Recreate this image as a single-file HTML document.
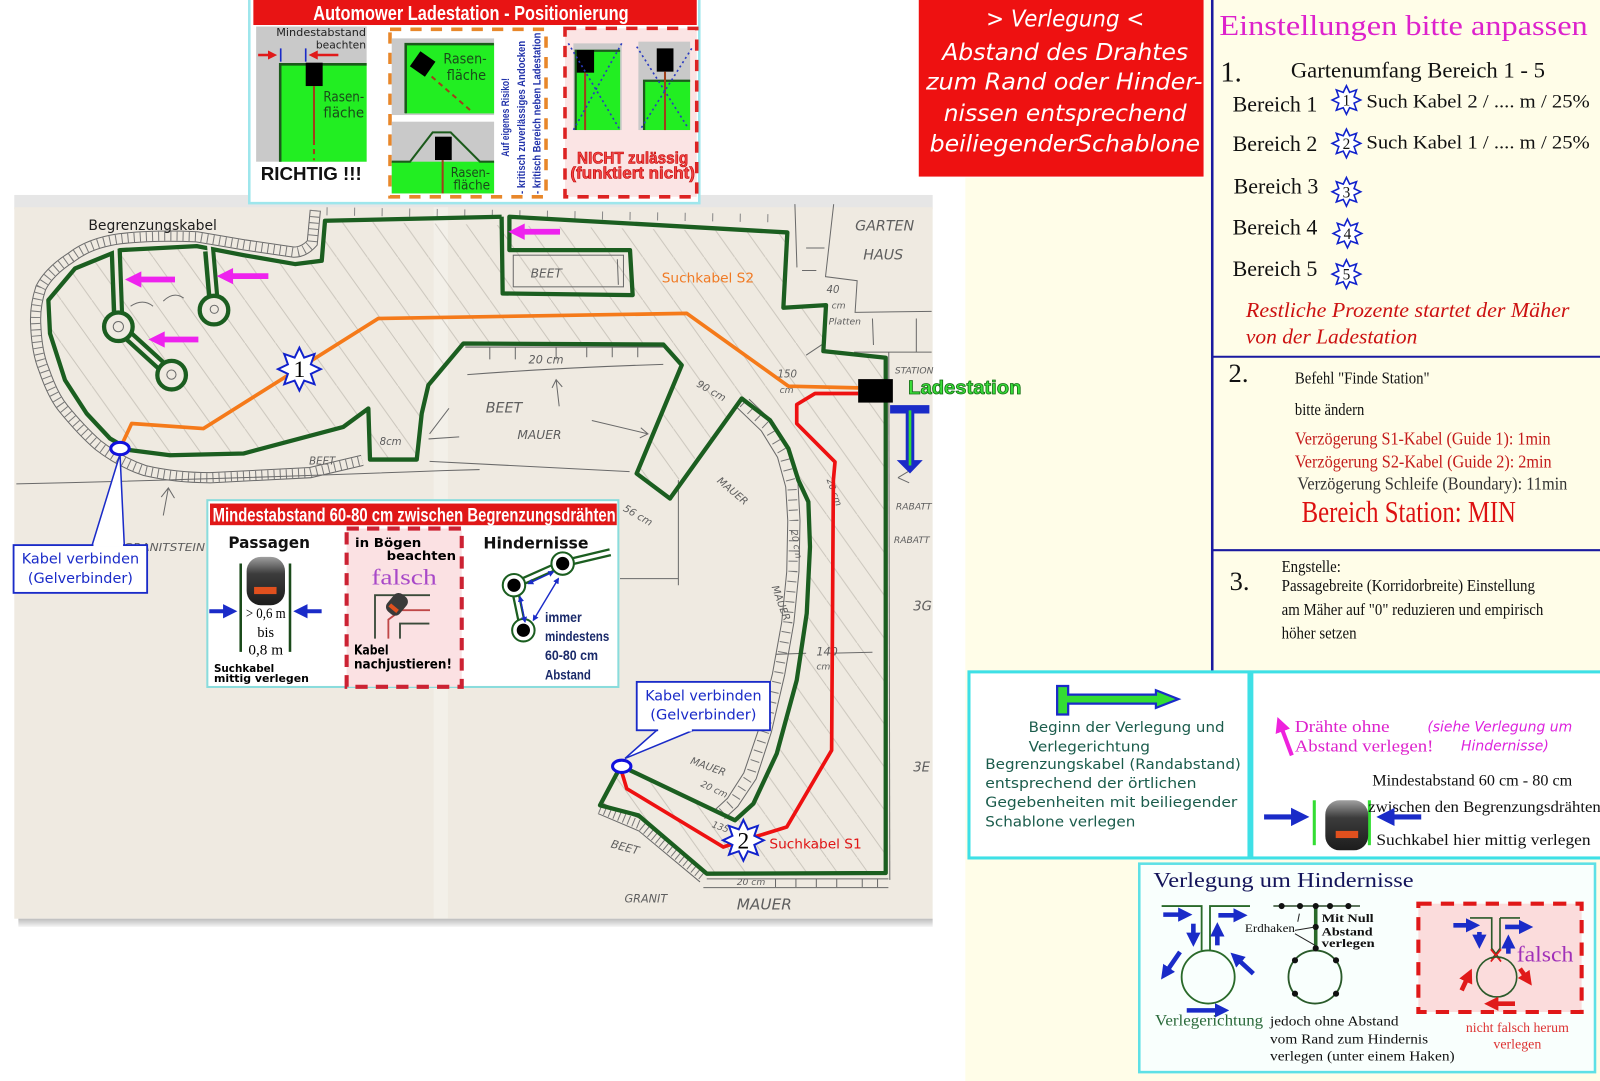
<!DOCTYPE html>
<html><head><meta charset="utf-8"><style>
html,body{margin:0;padding:0;background:#fff;}
svg{display:block;}
text{font-family:"Liberation Sans",sans-serif;}
.sf,.sf text{font-family:"Liberation Serif",serif;}
.dv,.dv text{font-family:"DejaVu Sans","Liberation Sans",sans-serif;}
.nar,.nar text{font-family:"Liberation Sans Narrow","Liberation Sans",sans-serif;font-weight:bold;}
.pc,.pc text{font-family:"DejaVu Sans","Liberation Sans",sans-serif;font-style:italic;fill:#5e5e5e;}
</style></head><body>
<svg width="1600" height="1081" viewBox="0 0 1568 1059" preserveAspectRatio="none" xmlns="http://www.w3.org/2000/svg">
<defs>
<marker id="ab" viewBox="0 0 10 10" refX="6" refY="5" markerWidth="14" markerHeight="14" markerUnits="userSpaceOnUse" orient="auto"><path d="M0,0L10,5L0,10z" fill="#1a2bc8"/></marker>
<marker id="abb" viewBox="0 0 10 10" refX="6" refY="5" markerWidth="18" markerHeight="18" markerUnits="userSpaceOnUse" orient="auto"><path d="M0,0L10,5L0,10z" fill="#1a2bc8"/></marker>
<marker id="ar" viewBox="0 0 10 10" refX="6" refY="5" markerWidth="14" markerHeight="14" markerUnits="userSpaceOnUse" orient="auto"><path d="M0,0L10,5L0,10z" fill="#e01a1a"/></marker>
<marker id="ars" viewBox="0 0 10 10" refX="6" refY="5" markerWidth="9" markerHeight="9" markerUnits="userSpaceOnUse" orient="auto"><path d="M0,0L10,5L0,10z" fill="#e01a1a"/></marker>
<marker id="am" viewBox="0 0 10 10" refX="6" refY="5" markerWidth="15" markerHeight="15" markerUnits="userSpaceOnUse" orient="auto"><path d="M0,0L10,5L0,10z" fill="#ee22dd"/></marker>
<marker id="as" viewBox="0 0 10 10" refX="8" refY="5" markerWidth="6" markerHeight="6" markerUnits="userSpaceOnUse" orient="auto"><path d="M0,0L10,5L0,10z" fill="#1a2bc8"/></marker>
<marker id="as0" viewBox="0 0 10 10" refX="2" refY="5" markerWidth="6" markerHeight="6" markerUnits="userSpaceOnUse" orient="auto"><path d="M10,0L0,5L10,10z" fill="#1a2bc8"/></marker>
<pattern id="hatch" patternUnits="userSpaceOnUse" width="30" height="42"><path d="M-3,-4.2L33,46.2" stroke="#8f8a80" stroke-width="0.9"/></pattern>
<linearGradient id="mow" x1="0" y1="0" x2="0" y2="1"><stop offset="0" stop-color="#a0a0a0"/><stop offset="0.35" stop-color="#3c3c3c"/><stop offset="1" stop-color="#1c1c1c"/></linearGradient>
<linearGradient id="shd" x1="0" y1="0" x2="0" y2="1"><stop offset="0" stop-color="#bdbdbd"/><stop offset="1" stop-color="#f4f4f4"/></linearGradient>
<polygon id="star" vector-effect="non-scaling-stroke" points="0,-10 2.22,-5.36 7.07,-7.07 5.36,-2.22 10,0 5.36,2.22 7.07,7.07 2.22,5.36 0,10 -2.22,5.36 -7.07,7.07 -5.36,2.22 -10,0 -5.36,-2.22 -7.07,-7.07 -2.22,-5.36"/>
</defs>

<rect x="0" y="0" width="1568" height="1059" fill="#fff"/>
<rect x="946" y="174" width="622" height="885" fill="#fffde8"/>
<rect x="1180" y="0" width="388" height="176" fill="#fffde8"/>

<!-- ===== MAP ===== -->
<rect x="14" y="191" width="900" height="14" fill="#e6e6e6"/>
<rect x="14" y="203" width="900" height="697" fill="#efeae1"/>
<rect x="425" y="203" width="14" height="697" fill="#f4f1eb" opacity="0.8"/>
<rect x="18" y="900" width="896" height="8" fill="url(#shd)"/>

<polygon fill="url(#hatch)" opacity="0.42" points="318.5,216.3 771.6,227.7 767.7,301.5 809.5,298.9 806.9,344 868,350.5 868,855 692.6,855.9 625.6,798.7 588,788.9 609,751 720,803 738,787 761,738 781,666 791,601 794,536 792,492 782,470 773,439 755,412 727,390 655,483 624,464 668,358 650,337.5 454,336.5 421,377 413,405 408,450 363,450 361,400 336.5,418 238.5,444 166.6,446 127.4,441 107.8,429.6 84.9,405 63.7,372.4 49,326.7 47.4,294 73.5,263 117.6,245 192.8,241.1 238.5,250 289,258.7 315.3,255.5"/>

<path d="M309,206 L306,238 Q298,247 288,247 L240,240 L193,232 Q150,230 117,234 Q88,238 70,252 Q48,266 40,282 Q34,300 35,318 Q36,345 43,362 Q52,388 62,400 Q80,422 96,436 Q118,453 142,461 Q172,468 206,468 L304,463 L355,451" fill="none" stroke="#6a6a6a" stroke-width="11"/>
<path d="M309,206 L306,238 Q298,247 288,247 L240,240 L193,232 Q150,230 117,234 Q88,238 70,252 Q48,266 40,282 Q34,300 35,318 Q36,345 43,362 Q52,388 62,400 Q80,422 96,436 Q118,453 142,461 Q172,468 206,468 L304,463 L355,451" fill="none" stroke="#efeae1" stroke-width="9"/>
<path d="M309,206 L306,238 Q298,247 288,247 L240,240 L193,232 Q150,230 117,234 Q88,238 70,252 Q48,266 40,282 Q34,300 35,318 Q36,345 43,362 Q52,388 62,400 Q80,422 96,436 Q118,453 142,461 Q172,468 206,468 L304,463 L355,451" fill="none" stroke="#7a7a7a" stroke-width="9" stroke-dasharray="1 5"/>

<g fill="none" stroke="#6a6a6a" stroke-width="1">
<path d="M16,474 Q200,470 434,461 L470,460"/>
<path d="M160,505 L165,478 M158,487 L165,478 L171,488"/>
<rect x="503" y="250" width="108" height="31"/>
<path d="M605,254 L606,279"/>
<path d="M456,340 L650,340 M458,367 Q550,360 650,357"/>
<path d="M480,340 V352 M505,340 V352 M545,340 V352 M575,340 V350 M600,340 V350 M625,340 V350"/>
<path d="M421,452 L617,462 M421,425 L440,400"/>
<path d="M580,412 L635,425 M628,419 L635,425 L627,429"/>
<path d="M545,372 L548,398 M541,380 L545,372 L551,379"/>
<path d="M420,430 L450,428"/>
<path d="M728,395 L752,418 L768,445 L776,475 L778,510 L777,560 L772,610 L763,660 L750,715 L735,760 L718,786 L705,798" stroke-width="9" stroke="#777" stroke-dasharray="1 9"/>
<path d="M722,399 L746,422 L762,448 L770,477 L772,510 L771,560 L766,610 L757,660 L744,713 L729,757 L713,782 L700,794"/>
<path d="M734,391 L758,414 L774,442 L782,473 L784,510 L783,560 L778,610 L769,661 L756,717 L741,763 L723,790 L710,802"/>
<path d="M588,792 L627,808 L688,858" stroke-width="9" stroke="#777" stroke-dasharray="1 4"/>
<path d="M590,787 L628,802 L690,853 M586,797 L626,814 L686,864"/>
<path d="M692.6,861 H870.6 M689.3,869.6 H870.6"/>
<path d="M760,861 V869 M780,861 V869 M800,861 V869 M820,861 V869 M845,861 V869 M860,861 V869"/>
<path d="M664.8,470.4 L664.8,573.3 M607.6,566.8 L664.8,566.8"/>
<path d="M779,200 L781,262 M817,200 L809,271 L840,275 L838,306 L913,305 M855,312 L856,338 M898,312 L898,345 M837,345 L913,345 M790,243 L808,243 M786,265 L800,265"/>
<path d="M760,641 L790,640 M812,640 L855,639"/>
<path d="M880,468 L890,462 M880,468 L891,473"/>
<path d="M871,345 L872,862"/>
<path d="M320,207 L770,214" stroke-width="8" stroke="#888" stroke-dasharray="1 26"/>
<path d="M790,348 L808,336"/>
<path d="M128,300 Q140,292 150,300 M160,295 Q170,285 180,292"/>
</g>
<g class="pc">
<text x="121" y="540" font-size="10" textLength="80" lengthAdjust="spacingAndGlyphs">GRANITSTEIN</text>
<text x="520" y="272" font-size="12">BEET</text>
<text x="518" y="356" font-size="11">20 cm</text>
<text x="476" y="404" font-size="14">BEET</text>
<text x="507" y="430" font-size="12">MAUER</text>
<text x="303" y="455" font-size="10">BEET</text>
<text x="372" y="436" font-size="10">8cm</text>
<text x="838" y="226" font-size="14">GARTEN</text>
<text x="846" y="254" font-size="14">HAUS</text>
<text x="810" y="287" font-size="10">40</text>
<text x="815" y="302" font-size="9">cm</text>
<text x="812" y="318" font-size="9">Platten</text>
<text x="877" y="366" font-size="9">STATION</text>
<text x="762" y="370" font-size="10">150</text>
<text x="764" y="385" font-size="9">cm</text>
<text x="682" y="378" font-size="10" transform="rotate(30 682 378)">90 cm</text>
<text x="610" y="500" font-size="10" transform="rotate(30 610 500)">56 cm</text>
<text x="702" y="472" font-size="10" transform="rotate(40 702 472)">MAUER</text>
<text x="756" y="575" font-size="10" transform="rotate(70 756 575)">MAUER</text>
<text x="775" y="520" font-size="9" transform="rotate(80 775 520)">20 cm</text>
<text x="800" y="642" font-size="11">140</text>
<text x="800" y="656" font-size="9">cm</text>
<text x="676" y="748" font-size="10" transform="rotate(20 676 748)">MAUER</text>
<text x="686" y="770" font-size="9" transform="rotate(25 686 770)">20 cm</text>
<text x="697" y="810" font-size="9" transform="rotate(20 697 810)">135</text>
<text x="722" y="867" font-size="9">20 cm</text>
<text x="722" y="891" font-size="15">MAUER</text>
<text x="612" y="884" font-size="11">GRANIT</text>
<text x="598" y="830" font-size="11" transform="rotate(15 598 830)">BEET</text>
<text x="878" y="499" font-size="9">RABATT</text>
<text x="876" y="532" font-size="9">RABATT</text>
<text x="895" y="598" font-size="13">3G</text>
<text x="895" y="756" font-size="13">3E</text>
<text x="810" y="470" font-size="9" transform="rotate(70 810 470)">20 cm</text>
</g>

<g fill="none" stroke="#1b5e20" stroke-width="4.2" stroke-linejoin="round">
<path d="M491.6,212.3 L318.5,216.3 L315.3,255.5 L289.1,258.7 L238.5,249.9 L192.8,241.1 L117.6,245 L109.4,248.3 L73.5,263 L47.4,294 L49,326.7 L63.7,372.4 L84.9,405.1 L107.8,429.6 L127.4,441 L166.6,446 L238.5,444.3 L336.5,418.2 L361,400.2 L362.6,450.2 L408.4,450.2 L413.3,405.1 L419.8,377.3 L454.1,336.5 L650.1,337.5 L668.1,357.7 L623.9,463.9 L656.6,488.4 L726.9,390.4 L754.6,411.6 L772.6,439.4 L782.4,470.4 L792.2,491.6 L793.8,535.7 L790.6,601 L780.8,666.4 L761.2,738.3 L738.3,787.3 L720.3,803.6 L617.4,754.6"/>
<path d="M606,755 L588,788.9 L625.6,798.7 L692.6,855.9 L868,855.2 L868,350.5 L806.9,344 L809.5,298.9 L767.7,301.5 L771.6,227.7 L499.2,212.3 L499.2,245 L617.4,245 L620,289.1 L492.6,287.5 L491.6,212.3"/>
</g>
<g stroke="#1b5e20" stroke-width="12" fill="none">
<line x1="113.5" y1="247" x2="116" y2="318"/>
<line x1="116" y1="320" x2="168.2" y2="367.5"/>
<line x1="205" y1="246" x2="209.7" y2="300"/>
</g>
<g stroke="#efeae1" stroke-width="3.6" fill="none">
<line x1="113.3" y1="242" x2="116" y2="312"/>
<line x1="116" y1="320" x2="168.2" y2="367.5"/>
<line x1="204.7" y1="240" x2="209.5" y2="296"/>
</g>
<g fill="#efeae1" stroke="#1b5e20" stroke-width="4.2">
<circle cx="116" cy="320.1" r="14"/><circle cx="168.2" cy="367.5" r="14"/><circle cx="209.7" cy="303.8" r="14"/>
</g>
<g fill="none" stroke="#6a6a6a" stroke-width="1"><circle cx="116" cy="320" r="5"/><circle cx="168" cy="367" r="4.5"/><circle cx="210" cy="303" r="4"/></g>

<g fill="#ee22ee">
<polygon points="122.5,273.8 138.5,265.8 138.5,271 171.5,271 171.5,276.6 138.5,276.6 138.5,281.8"/>
<polygon points="212.4,270.5 228.4,262.5 228.4,267.7 263,267.7 263,273.3 228.4,273.3 228.4,278.5"/>
<polygon points="145.4,332.6 161.4,324.6 161.4,329.8 194.4,329.8 194.4,335.4 161.4,335.4 161.4,340.6"/>
<polygon points="498.2,227 514.2,219 514.2,224.2 548.8,224.2 548.8,229.8 514.2,229.8 514.2,235"/>
</g>

<path d="M117.6,439.4 L129,414.9 L199.3,419.8 L370.8,312 L673,307 L772.6,378.3 L841,380" fill="none" stroke="#f57a1a" stroke-width="3.6" stroke-linejoin="round"/>
<path d="M841,385.5 L798.7,385.5 L780.8,396.3 L780.8,414.9 L818.3,452.5 L816.7,470.4 L815,735 L771,810.2 L744.8,818.3 L728.5,823.2 L708.9,829.8 L614.2,772.6 L609.3,756.3" fill="none" stroke="#ee1111" stroke-width="3.6" stroke-linejoin="round"/>

<rect x="841" y="371.4" width="34" height="23" fill="#000"/>
<path d="M872.3,396.9 H910.8 V405.1 H896 V450.8 H904.3 L891.8,463.9 L878.8,450.8 H887.6 V405.1 H872.3 Z" fill="#1a2bc8"/>
<line x1="891.8" y1="402" x2="891.8" y2="456" stroke="#33dd33" stroke-width="2.6"/>
<text x="890" y="386" font-size="19" font-weight="bold" fill="#3ade3a" stroke="#137013" stroke-width="0.8" textLength="111" lengthAdjust="spacingAndGlyphs">Ladestation</text>

<text class="dv" x="86.6" y="225.4" font-size="14" fill="#1e1e1e" textLength="126" lengthAdjust="spacingAndGlyphs">Begrenzungskabel</text>
<text class="dv" x="648.5" y="276.7" font-size="13" fill="#f07a24" textLength="90.5" lengthAdjust="spacingAndGlyphs">Suchkabel S2</text>
<text class="dv" x="754" y="831.4" font-size="13" fill="#e01414" textLength="90.5" lengthAdjust="spacingAndGlyphs">Suchkabel S1</text>

<use href="#star" transform="translate(293.4,361.6) scale(2.1)" fill="#fff" stroke="#1122cc" stroke-width="2"/>
<text class="sf" x="293.4" y="369.5" font-size="23" text-anchor="middle" fill="#000">1</text>
<use href="#star" transform="translate(728.5,823.2) scale(2.0)" fill="#fff" stroke="#1122cc" stroke-width="2"/>
<text class="sf" x="728.5" y="831" font-size="23" text-anchor="middle" fill="#000">2</text>

<path d="M90.3,534 L117.6,445 L121.8,534" fill="#fff" stroke="#1a2bc8" stroke-width="1.5"/>
<rect x="13.3" y="534" width="130.9" height="46.8" fill="#fff" stroke="#1a2bc8" stroke-width="1.8"/>
<line x1="91.6" y1="534" x2="120.6" y2="534" stroke="#fff" stroke-width="2.4"/>
<text class="dv" x="78.8" y="552" font-size="13.5" fill="#1a2bc8" text-anchor="middle" textLength="115" lengthAdjust="spacingAndGlyphs">Kabel verbinden</text>
<text class="dv" x="78.8" y="571" font-size="13.5" fill="#1a2bc8" text-anchor="middle" textLength="103" lengthAdjust="spacingAndGlyphs">(Gelverbinder)</text>
<path d="M643.6,715.4 L612.5,743 L679.5,715.4" fill="#fff" stroke="#1a2bc8" stroke-width="1.5"/>
<rect x="624" y="668" width="130.6" height="47.4" fill="#fff" stroke="#1a2bc8" stroke-width="1.8"/>
<line x1="645" y1="715.4" x2="678" y2="715.4" stroke="#fff" stroke-width="2.4"/>
<text class="dv" x="689.3" y="686" font-size="13.5" fill="#1a2bc8" text-anchor="middle" textLength="114" lengthAdjust="spacingAndGlyphs">Kabel verbinden</text>
<text class="dv" x="689.3" y="705" font-size="13.5" fill="#1a2bc8" text-anchor="middle" textLength="104" lengthAdjust="spacingAndGlyphs">(Gelverbinder)</text>
<ellipse cx="117.6" cy="439.4" rx="9" ry="6" fill="#fff" stroke="#1111dd" stroke-width="3"/>
<ellipse cx="609.3" cy="750.7" rx="9" ry="6" fill="#fff" stroke="#1111dd" stroke-width="3"/>

<!-- ===== MIDDLE BOX ===== -->
<rect x="203.2" y="490" width="402.8" height="183" fill="#fff" stroke="#8adcdc" stroke-width="2"/>
<rect x="205.8" y="493.3" width="398.6" height="21.2" fill="#e01818"/>
<text class="nar" x="208.4" y="511" font-size="19" fill="#fff" textLength="395" lengthAdjust="spacingAndGlyphs">Mindestabstand 60-80 cm zwischen Begrenzungsdrähten</text>
<text class="dv" x="223.8" y="536.7" font-size="16" font-weight="bold" fill="#111" textLength="80" lengthAdjust="spacingAndGlyphs">Passagen</text>
<line x1="235.9" y1="552" x2="235.9" y2="638.6" stroke="#1a4a1a" stroke-width="2.5"/>
<line x1="284.2" y1="552" x2="284.2" y2="638.6" stroke="#1a4a1a" stroke-width="2.5"/>
<rect x="241.7" y="545.5" width="37.6" height="47.4" rx="14" fill="url(#mow)"/>
<rect x="249" y="575" width="22" height="7" fill="#e0501e"/>
<line x1="205.1" y1="598.8" x2="227" y2="598.8" stroke="#1a2bc8" stroke-width="4" marker-end="url(#ab)"/>
<line x1="315.2" y1="598.8" x2="293" y2="598.8" stroke="#1a2bc8" stroke-width="4" marker-end="url(#ab)"/>
<text class="sf" x="260.4" y="605.3" font-size="14" text-anchor="middle" textLength="39" lengthAdjust="spacingAndGlyphs">&gt; 0,6 m</text>
<text class="sf" x="260.4" y="624" font-size="14" text-anchor="middle">bis</text>
<text class="sf" x="260.4" y="641.3" font-size="14" text-anchor="middle" textLength="34" lengthAdjust="spacingAndGlyphs">0,8 m</text>
<text class="dv" x="209.7" y="658.2" font-size="10" font-weight="bold" textLength="59" lengthAdjust="spacingAndGlyphs">Suchkabel</text>
<text class="dv" x="209.7" y="668" font-size="10" font-weight="bold" textLength="93" lengthAdjust="spacingAndGlyphs">mittig verlegen</text>
<rect x="339.7" y="517.8" width="112.8" height="155" fill="#fbe1e3" stroke="#cc2233" stroke-width="4" stroke-dasharray="12 8"/>
<text class="dv" x="347.9" y="535.7" font-size="12.5" font-weight="bold" textLength="65" lengthAdjust="spacingAndGlyphs">in Bögen</text>
<text class="dv" x="446.9" y="548.8" font-size="12.5" font-weight="bold" text-anchor="end" textLength="68" lengthAdjust="spacingAndGlyphs">beachten</text>
<text class="sf" x="395.9" y="572.7" font-size="22" fill="#a848c8" text-anchor="middle" textLength="64" lengthAdjust="spacingAndGlyphs">falsch</text>
<path d="M367.5,625.6 V583.1 H421.4 M392,625.6 V610.9 H420.8" fill="none" stroke="#3a4a3a" stroke-width="1.8"/>
<path d="M380.6,625.6 V607 L393,597.8 H421.4" fill="none" stroke="#c04848" stroke-width="1.8"/>
<g transform="translate(389,592) rotate(40)"><rect x="-8" y="-11" width="16" height="22" rx="6" fill="#3a3a3a"/><rect x="-5" y="3" width="10" height="4" fill="#e0501e"/></g>
<text class="dv" x="346.9" y="641.3" font-size="13" font-weight="bold" textLength="34" lengthAdjust="spacingAndGlyphs">Kabel</text>
<text class="dv" x="346.9" y="655" font-size="13" font-weight="bold" textLength="96" lengthAdjust="spacingAndGlyphs">nachjustieren!</text>
<text class="dv" x="473.7" y="537.4" font-size="16" font-weight="bold" fill="#111" textLength="103" lengthAdjust="spacingAndGlyphs">Hindernisse</text>
<g stroke="#1b5e20" stroke-width="8" fill="none"><line x1="503.7" y1="573.3" x2="551.4" y2="552.1"/><line x1="503.7" y1="573.3" x2="512.9" y2="617.4"/><line x1="551.4" y1="552.1" x2="598" y2="541"/></g>
<g stroke="#fff" stroke-width="3.5" fill="none"><line x1="503.7" y1="573.3" x2="551.4" y2="552.1"/><line x1="503.7" y1="573.3" x2="512.9" y2="617.4"/><line x1="551.4" y1="552.1" x2="600" y2="540.5"/></g>
<g fill="#fff" stroke="#1b5e20" stroke-width="2"><circle cx="503.7" cy="573.3" r="11"/><circle cx="551.4" cy="552.1" r="11"/><circle cx="512.9" cy="617.4" r="11"/></g>
<g fill="#000"><circle cx="503.7" cy="573.3" r="6.5"/><circle cx="551.4" cy="552.1" r="6.5"/><circle cx="512.9" cy="617.4" r="6.5"/></g>
<g stroke="#1a2bc8" stroke-width="1.4" marker-end="url(#as)" marker-start="url(#as0)">
<line x1="517.8" y1="571.7" x2="542.3" y2="560.2"/><line x1="509.6" y1="584.7" x2="514.5" y2="609.2"/><line x1="547.2" y1="566.8" x2="522.7" y2="607.6"/>
</g>
<g class="nar" font-size="14" fill="#1a2a6a">
<text x="534.1" y="609.2" textLength="36" lengthAdjust="spacingAndGlyphs">immer</text>
<text x="534.1" y="627.9" textLength="63" lengthAdjust="spacingAndGlyphs">mindestens</text>
<text x="534.1" y="646.8" textLength="52" lengthAdjust="spacingAndGlyphs">60-80 cm</text>
<text x="534.1" y="665.8" textLength="45" lengthAdjust="spacingAndGlyphs">Abstand</text>
</g>

<!-- ===== TOP BOX ===== -->
<rect x="244.3" y="-2" width="441" height="201" fill="#fff" stroke="#9ee6ec" stroke-width="2.5"/>
<rect x="248.3" y="0" width="434.5" height="24.5" fill="#e81414"/>
<text class="nar" x="307" y="19.6" font-size="20" fill="#fff" textLength="309" lengthAdjust="spacingAndGlyphs">Automower Ladestation - Positionierung</text>
<rect x="251" y="26" width="108.3" height="132.4" fill="#c9c9c9"/>
<rect x="273.8" y="62.1" width="85.5" height="96.3" fill="#22ee22"/>
<path d="M274.6,158.4 V63 H359.3" fill="none" stroke="#1b5a1b" stroke-width="2.5"/>
<rect x="299.6" y="61.4" width="16.6" height="22.9" fill="#000"/>
<line x1="307.7" y1="84.3" x2="307.7" y2="137" stroke="#a0401a" stroke-width="2"/>
<line x1="307.7" y1="137" x2="307.7" y2="157" stroke="#a0401a" stroke-width="2" stroke-dasharray="5 4"/>
<line x1="253" y1="53.9" x2="268" y2="53.9" stroke="#e01a1a" stroke-width="2.5" marker-end="url(#ars)"/>
<line x1="331.6" y1="53.9" x2="306" y2="53.9" stroke="#e01a1a" stroke-width="2.5" marker-end="url(#ars)"/>
<line x1="275.1" y1="47.4" x2="275.1" y2="60.4" stroke="#1a2bc8" stroke-width="1.6"/>
<line x1="299.6" y1="47.4" x2="299.6" y2="60.4" stroke="#1a2bc8" stroke-width="1.6"/>
<text class="dv" x="358.7" y="35.3" font-size="10.5" fill="#222" text-anchor="end" textLength="88" lengthAdjust="spacingAndGlyphs">Mindestabstand</text>
<text class="dv" x="358.7" y="47.4" font-size="10.5" fill="#222" text-anchor="end">beachten</text>
<text class="dv" x="316.9" y="99.6" font-size="14" fill="#1a4a1a" textLength="40" lengthAdjust="spacingAndGlyphs">Rasen-</text>
<text class="dv" x="316.9" y="115" font-size="14" fill="#1a4a1a" textLength="40" lengthAdjust="spacingAndGlyphs">fläche</text>
<text x="255.5" y="176.4" font-size="18" font-weight="bold" fill="#111" textLength="99" lengthAdjust="spacingAndGlyphs">RICHTIG !!!</text>
<rect x="382.2" y="28.7" width="152.9" height="164.1" fill="#fff" stroke="#e8872a" stroke-width="3.5" stroke-dasharray="11 9"/>
<rect x="383.9" y="37.6" width="100.3" height="75.1" fill="#c9c9c9"/>
<rect x="396.9" y="42.5" width="87.3" height="68.6" fill="#22ee22"/>
<path d="M397.6,111 V43.2 H484" fill="none" stroke="#1b5a1b" stroke-width="2.5"/>
<line x1="423" y1="75" x2="460.6" y2="107.8" stroke="#a0401a" stroke-width="2" stroke-dasharray="5 4"/>
<rect x="-9" y="-9" width="18" height="18" fill="#000" transform="translate(414.2,62.7) rotate(35)"/>
<text class="dv" x="434.5" y="62" font-size="14" fill="#1a4a1a" textLength="42.5" lengthAdjust="spacingAndGlyphs">Rasen-</text>
<text class="dv" x="437.8" y="78.4" font-size="14" fill="#1a4a1a" textLength="38.5" lengthAdjust="spacingAndGlyphs">fläche</text>
<rect x="383.9" y="119.2" width="100.3" height="70.3" fill="#c9c9c9"/>
<rect x="383.9" y="158.4" width="100.3" height="31.1" fill="#22ee22"/>
<path d="M383.9,158.4 H401.8 L424,129.7 H441.7 L470.4,158.4 H484.2" fill="none" stroke="#1b5a1b" stroke-width="2"/>
<rect x="426.3" y="133.9" width="16.4" height="22.9" fill="#000"/>
<line x1="433.8" y1="156.8" x2="433.8" y2="189.5" stroke="#a0401a" stroke-width="2"/>
<text class="dv" x="441.7" y="173.2" font-size="13" fill="#1a4a1a" textLength="38.5" lengthAdjust="spacingAndGlyphs">Rasen-</text>
<text class="dv" x="444.3" y="185.6" font-size="13" fill="#1a4a1a" textLength="36" lengthAdjust="spacingAndGlyphs">fläche</text>
<g class="nar" font-size="10.5" fill="#2233aa">
<text transform="translate(499,153.5) rotate(-90)" textLength="77" lengthAdjust="spacingAndGlyphs">Auf eigenes Risiko!</text>
<text transform="translate(514.5,190) rotate(-90)" textLength="150" lengthAdjust="spacingAndGlyphs">- kritisch zuverlässiges Andocken</text>
<text transform="translate(529.5,190) rotate(-90)" textLength="158" lengthAdjust="spacingAndGlyphs">- kritisch Bereich neben Ladestation</text>
</g>
<rect x="553.7" y="27.8" width="129.1" height="165" fill="#fbe4e4" stroke="#dd2222" stroke-width="3.5" stroke-dasharray="11 9"/>
<rect x="561.9" y="42.5" width="47.4" height="84.9" fill="#c9c9c9"/>
<rect x="563.5" y="49" width="44.2" height="78.4" fill="#22ee22"/>
<path d="M564.2,127.4 V49.7 H607.7" fill="none" stroke="#1b5a1b" stroke-width="2.2"/>
<rect x="565.2" y="49" width="17" height="22.2" fill="#000"/>
<line x1="573.4" y1="71.2" x2="573.4" y2="127.4" stroke="#a0401a" stroke-width="2"/>
<rect x="625.6" y="40.8" width="50.7" height="86.6" fill="#c9c9c9"/>
<rect x="630.5" y="78.4" width="45.8" height="49" fill="#22ee22"/>
<path d="M631.2,127.4 V79.1 H676.3" fill="none" stroke="#1b5a1b" stroke-width="2.2"/>
<rect x="643.6" y="47.4" width="16.4" height="22.8" fill="#000"/>
<line x1="651.7" y1="70.2" x2="651.7" y2="127.4" stroke="#a0401a" stroke-width="2"/>
<g stroke="#2a3ac0" stroke-width="1.6" stroke-dasharray="2 3">
<line x1="557" y1="42.5" x2="607.7" y2="127.4"/><line x1="609.3" y1="42.5" x2="561.9" y2="127.4"/>
<line x1="624" y1="45.7" x2="674.6" y2="125.8"/><line x1="677.9" y1="47.4" x2="627.2" y2="127.4"/>
</g>
<text x="620" y="160.1" font-size="16" font-weight="bold" fill="#f24545" stroke="#c00000" stroke-width="0.6" text-anchor="middle" textLength="109" lengthAdjust="spacingAndGlyphs">NICHT zulässig</text>
<text x="620" y="174.8" font-size="16" font-weight="bold" fill="#f24545" stroke="#c00000" stroke-width="0.6" text-anchor="middle" textLength="122" lengthAdjust="spacingAndGlyphs">(funktiert nicht)</text>

<!-- ===== RED BOX ===== -->
<rect x="900.4" y="0" width="279.1" height="173" fill="#ee1111"/>
<g class="dv" font-size="23" font-style="italic" fill="#fff" text-anchor="middle">
<text x="1043.9" y="26.1" textLength="155" lengthAdjust="spacingAndGlyphs">&gt; Verlegung &lt;</text>
<text x="1043.9" y="58.8" textLength="241" lengthAdjust="spacingAndGlyphs">Abstand des Drahtes</text>
<text x="1043" y="87.6" textLength="271" lengthAdjust="spacingAndGlyphs">zum Rand oder Hinder-</text>
<text x="1043.9" y="118.3" textLength="238" lengthAdjust="spacingAndGlyphs">nissen entsprechend</text>
<text x="1043.5" y="148.6" textLength="265" lengthAdjust="spacingAndGlyphs">beiliegenderSchablone</text>
</g>

<!-- ===== RIGHT PANEL ===== -->
<line x1="1188" y1="0" x2="1188" y2="657" stroke="#1a1aa0" stroke-width="2.5"/>
<line x1="1189" y1="349.5" x2="1568" y2="349.5" stroke="#1a1aa0" stroke-width="2"/>
<line x1="1189" y1="539" x2="1568" y2="539" stroke="#1a1aa0" stroke-width="2"/>
<g class="sf">
<text x="1195" y="34.3" font-size="28" fill="#dd22cc" textLength="361" lengthAdjust="spacingAndGlyphs">Einstellungen bitte anpassen</text>
<text x="1196" y="80" font-size="28" fill="#111">1.</text>
<text x="1265" y="76" font-size="22" fill="#111" textLength="249" lengthAdjust="spacingAndGlyphs">Gartenumfang Bereich 1 - 5</text>
<text x="1208" y="109.4" font-size="22" fill="#111" textLength="83" lengthAdjust="spacingAndGlyphs">Bereich 1</text>
<text x="1208" y="147.7" font-size="22" fill="#111" textLength="83" lengthAdjust="spacingAndGlyphs">Bereich 2</text>
<text x="1209" y="189.5" font-size="22" fill="#111" textLength="83" lengthAdjust="spacingAndGlyphs">Bereich 3</text>
<text x="1208" y="229.7" font-size="22" fill="#111" textLength="83" lengthAdjust="spacingAndGlyphs">Bereich 4</text>
<text x="1208" y="270.5" font-size="22" fill="#111" textLength="83" lengthAdjust="spacingAndGlyphs">Bereich 5</text>
<text x="1339" y="105.2" font-size="19" fill="#111" textLength="219" lengthAdjust="spacingAndGlyphs">Such Kabel 2 / .... m / 25%</text>
<text x="1339" y="145.4" font-size="19" fill="#111" textLength="219" lengthAdjust="spacingAndGlyphs">Such Kabel 1 / .... m / 25%</text>
<text x="1221" y="310.4" font-size="21" font-style="italic" fill="#cc1111" textLength="317" lengthAdjust="spacingAndGlyphs">Restliche Prozente  startet der Mäher</text>
<text x="1221" y="336.5" font-size="21" font-style="italic" fill="#cc1111" textLength="168" lengthAdjust="spacingAndGlyphs">von der Ladestation</text>
<text x="1204" y="374" font-size="26" fill="#111">2.</text>
<text x="1269" y="375.7" font-size="17" fill="#111" textLength="132" lengthAdjust="spacingAndGlyphs">Befehl &quot;Finde Station&quot;</text>
<text x="1269" y="406.7" font-size="17" fill="#111" textLength="68" lengthAdjust="spacingAndGlyphs">bitte ändern</text>
<text x="1269" y="435.5" font-size="18" fill="#c41a1a" textLength="250.6" lengthAdjust="spacingAndGlyphs">Verzögerung S1-Kabel (Guide 1): 1min</text>
<text x="1269" y="458" font-size="18" fill="#c41a1a" textLength="251.6" lengthAdjust="spacingAndGlyphs">Verzögerung S2-Kabel (Guide 2): 2min</text>
<text x="1271.4" y="479.6" font-size="18" fill="#333" textLength="264.6" lengthAdjust="spacingAndGlyphs">Verzögerung Schleife (Boundary): 11min</text>
<text x="1275.6" y="511.3" font-size="30" fill="#dd1111" textLength="210" lengthAdjust="spacingAndGlyphs">Bereich Station: MIN</text>
<text x="1256" y="560.3" font-size="16" fill="#111" textLength="58" lengthAdjust="spacingAndGlyphs">Engstelle:</text>
<text x="1205" y="578" font-size="26" fill="#111">3.</text>
<text x="1256" y="578.9" font-size="17" fill="#111" textLength="248.3" lengthAdjust="spacingAndGlyphs">Passagebreite (Korridorbreite) Einstellung</text>
<text x="1256" y="602.7" font-size="17" fill="#111" textLength="256.5" lengthAdjust="spacingAndGlyphs">am Mäher auf &quot;0&quot; reduzieren und empirisch</text>
<text x="1256" y="625.6" font-size="17" fill="#111" textLength="73.5" lengthAdjust="spacingAndGlyphs">höher setzen</text>
</g>
<g fill="#fff" stroke="#1122cc" stroke-width="1.6">
<use href="#star" transform="translate(1319.5,98) scale(1.4)"/>
<use href="#star" transform="translate(1319.5,140.5) scale(1.4)"/>
<use href="#star" transform="translate(1319.5,187.9) scale(1.4)"/>
<use href="#star" transform="translate(1320.5,228.7) scale(1.4)"/>
<use href="#star" transform="translate(1319.5,268.5) scale(1.4)"/>
</g>
<g class="sf" font-size="15" text-anchor="middle" fill="#111">
<text x="1319.5" y="103.5">1</text><text x="1319.5" y="146">2</text><text x="1319.5" y="193.4">3</text><text x="1320.5" y="234.2">4</text><text x="1319.5" y="274">5</text>
</g>

<!-- ===== BOX A ===== -->
<rect x="949.6" y="658.2" width="274.4" height="182.3" fill="#fff" stroke="#3ee0e6" stroke-width="3"/>
<path d="M1036,672 H1046.8 V680.5 H1132.8 V676.2 L1154.8,684.9 L1132.8,693.5 V689.3 H1046.8 V700 H1036 Z" fill="#33dd33" stroke="#1a2bc8" stroke-width="2.2"/>
<g class="dv" font-size="14" fill="#1b5c4c">
<text x="1008" y="717" textLength="192" lengthAdjust="spacingAndGlyphs">Beginn der Verlegung und</text>
<text x="1008" y="736" textLength="119" lengthAdjust="spacingAndGlyphs">Verlegerichtung</text>
<text x="965.6" y="753.6" textLength="250.4" lengthAdjust="spacingAndGlyphs">Begrenzungskabel (Randabstand)</text>
<text x="965.6" y="771.9" textLength="207" lengthAdjust="spacingAndGlyphs">entsprechend der örtlichen</text>
<text x="965.6" y="790.5" textLength="247" lengthAdjust="spacingAndGlyphs">Gegebenheiten mit beiliegender</text>
<text x="965.6" y="809.5" textLength="147" lengthAdjust="spacingAndGlyphs">Schablone verlegen</text>
</g>

<!-- ===== BOX B ===== -->
<rect x="1226.8" y="658.2" width="345" height="182.3" fill="#fff" stroke="#3ee0e6" stroke-width="3"/>
<line x1="1266" y1="740" x2="1254" y2="708" stroke="#ee22dd" stroke-width="4" marker-end="url(#am)"/>
<text class="sf" x="1268.8" y="717" font-size="16" fill="#dd22cc" textLength="93" lengthAdjust="spacingAndGlyphs">Drähte ohne</text>
<text class="sf" x="1268.8" y="736" font-size="16" fill="#dd22cc" textLength="136" lengthAdjust="spacingAndGlyphs">Abstand verlegen!</text>
<text class="dv" x="1398.8" y="716.4" font-size="13.5" font-style="italic" fill="#dd22dd" textLength="142" lengthAdjust="spacingAndGlyphs">(siehe Verlegung um</text>
<text class="dv" x="1474.8" y="735" font-size="13.5" font-style="italic" fill="#dd22dd" text-anchor="middle" textLength="86" lengthAdjust="spacingAndGlyphs">Hindernisse)</text>
<text class="sf" x="1344.8" y="769.3" font-size="15" fill="#111" textLength="196" lengthAdjust="spacingAndGlyphs">Mindestabstand 60 cm - 80 cm</text>
<line x1="1288" y1="784" x2="1288" y2="828" stroke="#33dd33" stroke-width="3"/>
<line x1="1342" y1="784" x2="1342" y2="828" stroke="#33dd33" stroke-width="3"/>
<rect x="1298.8" y="784" width="42" height="49" rx="14" fill="url(#mow)"/>
<rect x="1309" y="814" width="22" height="7" fill="#e0501e"/>
<text class="sf" x="1340.8" y="795.4" font-size="15" fill="#111" textLength="228" lengthAdjust="spacingAndGlyphs">zwischen den Begrenzungsdrähten</text>
<text class="sf" x="1348.8" y="828" font-size="15" fill="#111" textLength="210" lengthAdjust="spacingAndGlyphs">Suchkabel hier mittig verlegen</text>
<line x1="1238.8" y1="800.3" x2="1276" y2="800.3" stroke="#1a2bc8" stroke-width="5" marker-end="url(#abb)"/>
<line x1="1392.8" y1="800.3" x2="1356" y2="800.3" stroke="#1a2bc8" stroke-width="5" marker-end="url(#abb)"/>

<!-- ===== BOX C ===== -->
<rect x="1116.5" y="846.1" width="446.6" height="204.2" fill="#f9fffd" stroke="#5ee0e6" stroke-width="2.5"/>
<text class="sf" x="1130.3" y="868.9" font-size="21" fill="#14145a" textLength="255" lengthAdjust="spacingAndGlyphs">Verlegung um Hindernisse</text>
<path d="M1138.4,887.6 H1177.6 V931 M1185.8,931 V887.6 H1225" fill="none" stroke="#2a6a2a" stroke-width="1.8"/>
<circle cx="1184" cy="957.1" r="26" fill="none" stroke="#2a6a2a" stroke-width="1.8"/>
<g stroke="#1a2bc8" stroke-width="4.5" marker-end="url(#ab)">
<line x1="1140" y1="896" x2="1163" y2="896"/>
<line x1="1169.5" y1="904.9" x2="1169.5" y2="922"/>
<line x1="1193" y1="926.1" x2="1193" y2="909"/>
<line x1="1194" y1="896.7" x2="1217" y2="896.7"/>
<line x1="1156.4" y1="932.6" x2="1141" y2="955"/>
<line x1="1228.3" y1="953.9" x2="1210" y2="937"/>
<line x1="1163" y1="989.8" x2="1199" y2="989.8"/>
</g>
<text class="sf" x="1131.9" y="1004.5" font-size="15" fill="#2a6a3a" textLength="106" lengthAdjust="spacingAndGlyphs">Verlegerichtung</text>
<line x1="1247.9" y1="887.6" x2="1332.8" y2="887.6" stroke="#2a4a2a" stroke-width="1.5"/>
<line x1="1289.4" y1="887.6" x2="1289.4" y2="931" stroke="#2a6a2a" stroke-width="3.5"/>
<circle cx="1288.7" cy="957.1" r="26" fill="none" stroke="#2a5a2a" stroke-width="1.8"/>
<g fill="#111">
<circle cx="1256" cy="887.6" r="3"/><circle cx="1274" cy="887.6" r="3"/><circle cx="1289.4" cy="887.6" r="3"/><circle cx="1303.4" cy="887.6" r="3"/><circle cx="1321.4" cy="887.6" r="3"/>
<circle cx="1289.4" cy="908.1" r="3"/><circle cx="1289.4" cy="929" r="3"/>
<circle cx="1269.1" cy="940.8" r="3"/><circle cx="1309.3" cy="940.8" r="3"/><circle cx="1269.1" cy="973.5" r="3"/><circle cx="1309.3" cy="973.5" r="3"/>
</g>
<path d="M1269,911.4 L1288.7,908.1 M1269,914.7 L1288.7,926.1 M1273.4,895 L1271.8,903" fill="none" stroke="#222" stroke-width="1"/>
<text class="sf" x="1220" y="913" font-size="11.5" fill="#111" textLength="49" lengthAdjust="spacingAndGlyphs">Erdhaken</text>
<text class="sf" x="1295.2" y="903.2" font-size="11.5" font-weight="bold" fill="#111" textLength="51" lengthAdjust="spacingAndGlyphs">Mit Null</text>
<text class="sf" x="1295.2" y="916.3" font-size="11.5" font-weight="bold" fill="#111" textLength="50" lengthAdjust="spacingAndGlyphs">Abstand</text>
<text class="sf" x="1295.2" y="927.7" font-size="11.5" font-weight="bold" fill="#111" textLength="52" lengthAdjust="spacingAndGlyphs">verlegen</text>
<text class="sf" x="1244.6" y="1004.5" font-size="13.5" fill="#111" textLength="126" lengthAdjust="spacingAndGlyphs">jedoch ohne Abstand</text>
<text class="sf" x="1244.6" y="1022.5" font-size="13.5" fill="#111" textLength="155" lengthAdjust="spacingAndGlyphs">vom Rand zum Hindernis</text>
<text class="sf" x="1244.6" y="1038.8" font-size="13.5" fill="#111" textLength="181" lengthAdjust="spacingAndGlyphs">verlegen (unter einem Haken)</text>
<rect x="1390" y="885.3" width="160" height="106.1" fill="#fbdcdc" stroke="#e01818" stroke-width="4" stroke-dasharray="13 9"/>
<path d="M1440.6,899.3 H1461.9 V929 L1470,940 M1470,899.3 H1489.6 M1470,899.3 V929 L1461.9,940" fill="none" stroke="#2a5a2a" stroke-width="1.6"/>
<path d="M1461,930 L1471,942 M1471,930 L1461,942" stroke="#e01818" stroke-width="1.6"/>
<circle cx="1466.8" cy="957.1" r="19.6" fill="none" stroke="#2a5a2a" stroke-width="1.6"/>
<g stroke="#1a2bc8" stroke-width="4.5" marker-end="url(#ab)">
<line x1="1424.3" y1="906.5" x2="1445" y2="906.5"/>
<line x1="1449.8" y1="913" x2="1449.8" y2="924"/>
<line x1="1478.2" y1="934.3" x2="1478.2" y2="921"/>
<line x1="1475" y1="908.1" x2="1497" y2="908.1"/>
</g>
<g stroke="#e01a1a" stroke-width="4.5" marker-end="url(#ar)">
<line x1="1432.4" y1="970.2" x2="1440" y2="954"/>
<line x1="1489.6" y1="949" x2="1498" y2="961"/>
<line x1="1484.7" y1="983.3" x2="1460" y2="983.3"/>
</g>
<text class="sf" x="1486.4" y="941.8" font-size="22" fill="#a030b8" textLength="55.5" lengthAdjust="spacingAndGlyphs">falsch</text>
<text class="sf" x="1487" y="1011" font-size="13.5" fill="#dd3333" text-anchor="middle" textLength="101" lengthAdjust="spacingAndGlyphs">nicht falsch herum</text>
<text class="sf" x="1487" y="1027.4" font-size="13.5" fill="#dd3333" text-anchor="middle" textLength="47" lengthAdjust="spacingAndGlyphs">verlegen</text>
</svg>
</body></html>
